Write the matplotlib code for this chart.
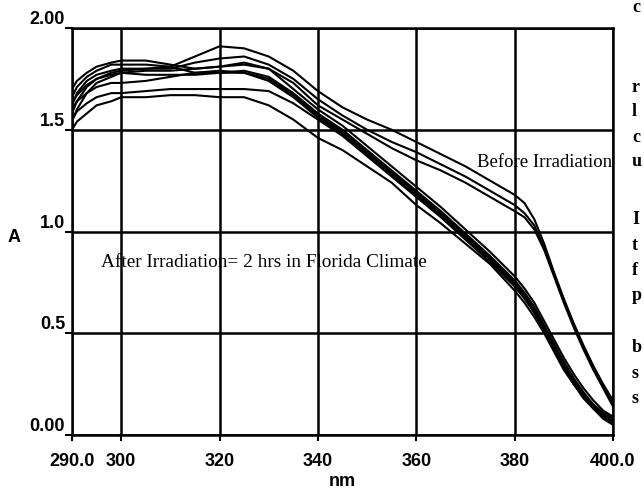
import matplotlib.pyplot as plt

plt.rcParams['font.family'] = ['Liberation Sans', 'DejaVu Sans']

# wavelength [nm]
wl = [290, 291, 293, 295, 298, 300, 305, 310, 315, 320, 325, 330, 335, 340, 345, 350,
      355, 360, 365, 370, 375, 380, 382, 384, 386, 388, 390, 392, 394, 396, 398, 400]

# before irradiation
before1 = [1.62, 1.68, 1.74, 1.77, 1.79, 1.80, 1.80, 1.81, 1.86, 1.91, 1.90, 1.86, 1.79, 1.69, 1.61, 1.55,
           1.50, 1.44, 1.38, 1.32, 1.25, 1.18, 1.14, 1.06, 0.94, 0.80, 0.67, 0.55, 0.44, 0.34, 0.25, 0.17]
before2 = [1.58, 1.64, 1.71, 1.75, 1.78, 1.79, 1.80, 1.80, 1.83, 1.85, 1.86, 1.82, 1.75, 1.65, 1.57, 1.50,
           1.44, 1.39, 1.33, 1.27, 1.20, 1.13, 1.09, 1.03, 0.92, 0.79, 0.66, 0.54, 0.43, 0.33, 0.24, 0.15]
before3 = [1.54, 1.60, 1.68, 1.73, 1.76, 1.78, 1.79, 1.79, 1.80, 1.81, 1.82, 1.80, 1.73, 1.62, 1.55, 1.48,
           1.41, 1.35, 1.30, 1.24, 1.17, 1.10, 1.07, 1.01, 0.91, 0.78, 0.65, 0.53, 0.42, 0.32, 0.23, 0.14]

# after irradiation (2 hrs)
after1 = [1.70, 1.74, 1.78, 1.81, 1.83, 1.84, 1.84, 1.82, 1.80, 1.81, 1.83, 1.80, 1.70, 1.60, 1.52, 1.42,
          1.32, 1.22, 1.12, 1.01, 0.90, 0.78, 0.72, 0.65, 0.56, 0.47, 0.38, 0.30, 0.23, 0.17, 0.12, 0.09]
after2 = [1.66, 1.71, 1.76, 1.79, 1.82, 1.82, 1.82, 1.81, 1.78, 1.78, 1.79, 1.76, 1.68, 1.58, 1.50, 1.40,
          1.30, 1.20, 1.10, 0.99, 0.88, 0.76, 0.70, 0.63, 0.54, 0.45, 0.36, 0.28, 0.21, 0.15, 0.11, 0.08]
after3 = [1.63, 1.67, 1.72, 1.75, 1.77, 1.78, 1.77, 1.77, 1.77, 1.78, 1.78, 1.75, 1.67, 1.57, 1.49, 1.39,
          1.29, 1.19, 1.09, 0.98, 0.87, 0.75, 0.69, 0.62, 0.53, 0.44, 0.35, 0.27, 0.20, 0.14, 0.10, 0.07]
after4 = [1.60, 1.64, 1.68, 1.71, 1.73, 1.73, 1.74, 1.76, 1.78, 1.79, 1.78, 1.74, 1.66, 1.56, 1.48, 1.38,
          1.28, 1.18, 1.08, 0.97, 0.86, 0.74, 0.68, 0.61, 0.52, 0.43, 0.34, 0.26, 0.19, 0.14, 0.09, 0.06]
after5 = [1.55, 1.59, 1.63, 1.66, 1.68, 1.68, 1.69, 1.70, 1.70, 1.70, 1.70, 1.69, 1.63, 1.55, 1.47, 1.37,
          1.27, 1.17, 1.07, 0.96, 0.85, 0.73, 0.67, 0.60, 0.51, 0.42, 0.33, 0.25, 0.19, 0.13, 0.09, 0.06]
after6 = [1.50, 1.54, 1.58, 1.62, 1.64, 1.66, 1.66, 1.67, 1.67, 1.66, 1.66, 1.62, 1.55, 1.46, 1.40, 1.32,
          1.24, 1.13, 1.04, 0.94, 0.84, 0.71, 0.65, 0.58, 0.50, 0.41, 0.32, 0.25, 0.18, 0.13, 0.08, 0.05]

curves = [before1, before2, before3, after1, after2, after3, after4, after5, after6]

xticks = [290, 300, 320, 340, 360, 380, 400]
xlabels = ['290.0', '300', '320', '340', '360', '380', '400.0']
yticks = [0, 0.5, 1.0, 1.5, 2.0]
ylabels = ['0.00', '0.5', '1.0', '1.5', '2.00']

# bits of the next page column that show at the right edge of the scan
side_letters = ['c', 'r', 'l', 'c', 'u', 'I', 't', 'f', 'p', 'b', 's', 's']
side_y = [7, 87, 112, 137, 162, 220, 245, 270, 295, 348, 373, 398]

fig = plt.figure(figsize=(6.44, 4.94), dpi=100)
ax = fig.add_axes([72/644, 1 - 435/494, 541/644, 407/494])

for c in curves:
    ax.plot(wl, c, 'k-', lw=1.5)

ax.set_xlim(290, 400)
ax.set_ylim(0, 2.0)
ax.set_xticks(xticks)
ax.set_xticklabels(xlabels)
ax.set_yticks(yticks)
ax.set_yticklabels(ylabels)
ax.grid(color='k', lw=1.8)
for s in ax.spines.values():
    s.set_linewidth(1.8)
ax.tick_params(axis='x', direction='out', length=4, width=1.5, pad=9, labelsize=13)
ax.tick_params(axis='y', direction='out', length=5, width=1.5, pad=0, labelsize=13)
for t in ax.get_yticklabels():
    t.set_verticalalignment('bottom')
    t.set_fontweight('bold')
for t in ax.get_xticklabels():
    t.set_fontweight('bold')

ax.text(372.3, 1.34, 'Before Irradiation', family='Liberation Serif', fontsize=13.5, va='center')
ax.text(295.8, 0.85, 'After Irradiation= 2 hrs in Florida Climate', family='Liberation Serif',
        fontsize=13.9, va='center')

fig.text(342/644, 1 - 481/494, 'nm', fontsize=13, fontweight='bold', ha='center', va='center')
fig.text(8/644, 1 - 238/494, 'A', fontsize=13, fontweight='bold', ha='left', va='center')

for ch, y in zip(side_letters, side_y):
    fig.text(632/644, 1 - y/494, ch, family='Liberation Serif', fontsize=13, fontweight='bold',
             ha='left', va='center')

plt.savefig('out.png', dpi=100)
